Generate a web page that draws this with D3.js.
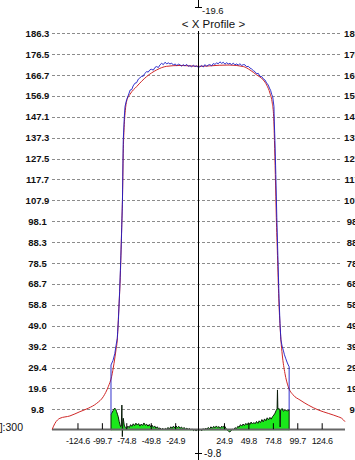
<!DOCTYPE html>
<html><head><meta charset="utf-8">
<script src="https://cdn.jsdelivr.net/npm/d3@7"></script>
<style>
html,body{margin:0;padding:0;background:#fff;overflow:hidden}
svg{display:block;font-family:"Liberation Sans",Arial,sans-serif}
</style></head>
<body>
<svg id="c" width="355" height="460"></svg>
<script>
// ---- data ----
const title = "< X Profile >";
const sideLabel = "[n]:300";
const xTickValues = [-124.6,-99.7,-74.8,-49.8,-24.9,24.9,49.8,74.8,99.7,124.6];
const xTickLabels = ["-124.6","-99.7","-74.8","-49.8","-24.9","24.9","49.8","74.8","99.7","124.6"];
const yTickValues = [9.8,19.6,29.4,39.2,49.0,58.8,68.7,78.5,88.3,98.1,107.9,117.7,127.5,137.3,147.1,156.9,166.7,176.5,186.3];
const yTickLabels = ["9.8","19.6","29.4","39.2","49.0","58.8","68.7","78.5","88.3","98.1","107.9","117.7","127.5","137.3","147.1","156.9","166.7","176.5","186.3"];
const centerTopLabel = "-19.6";
const centerBottomLabel = "-9.8";

// fitted profile (red)
const fitX = [-150.4,-147.6,-142.5,-132.3,-122.1,-113.6,-105,-98.3,-93.2,-89.8,-87.3,-85.3,-84,-82.6,-80.7,-79.5,-78.7,-77.9,-77,-75.8,-74.4,-70.8,-64.2,-54,-43.8,-33.6,-20,-10,0,10,20,30,44.6,51.4,58.2,65,68.5,71.8,74.2,75.6,76.4,77.3,78.3,79.5,80.8,82,83,84.4,87.1,90.5,95.6,102.4,110.9,121.1,131.3,141.5,145,148.4];
const fitY = [0.4,3.2,5.6,6.7,8.7,10.3,12.6,15.7,20.4,25.1,31.4,37.7,42.3,55,75,95,108,130,142,150,154.5,157.8,161.3,166,169.1,170.8,171.2,171,170.8,171,171.3,171.4,170.7,169.1,166.8,164.4,162,158.2,153.5,147.2,136,120,100,82,62,50,42.4,35.3,26.7,20.4,16.5,14.2,11.8,9.5,7.9,6.3,5.6,4.0];

// measured profile (blue)
const measX = [-90.4,-90.4,-88.3,-86.5,-85.3,-84,-82.8,-81.6,-80.6,-79.6,-78.7,-77.9,-76.8,-76.1,-74.4,-73,-70.8,-69.2,-67.8,-65.9,-64.3,-62.5,-61,-59.1,-57.6,-56,-54,-52.4,-50.6,-48.9,-47.2,-45.5,-43.8,-42.1,-40.4,-38.7,-37,-35.3,-33.5,-31.8,-30.2,-28.5,-26.7,-25,-23.2,-21.6,-20,-18.3,-16.6,-14.9,-13.2,-11.5,-9.8,-8.1,-6.4,-4.7,-3,-1.3,0.4,2.1,3.8,5.5,7.2,8.9,10.6,12.3,14,15.7,17.4,19.1,20.8,22.5,24.2,25.9,27.6,29.3,31,32.7,34.4,36.1,37.8,39.5,41.2,43,44.6,46.3,48,49.7,51.4,53,54.8,56.5,58.2,59.9,61.6,63.4,65,66.7,68.4,70.1,71.3,72.5,73.6,74.6,75.9,76.2,76.9,77.8,78.8,80,81.1,82.1,83,84.2,85.4,86.6,87.8,89.2,90.5,91.4,91.4];
const measY = [7.3,30.6,32.8,36,39.7,43,52,65,78,92,108,136,147,151.9,155.2,156.8,159.7,159.9,161.6,162.9,163.1,164.8,165.3,166.2,166.1,167.4,168.3,168.1,169.2,169.4,169.0,170.3,170.7,170.2,171.5,172.2,171.6,172.7,172.0,172.4,171.9,172.3,171.4,171.9,171.2,171.8,171.5,170.9,171.6,171.0,171.7,170.8,171.1,170.6,171.3,170.7,171.0,170.3,170.6,171.2,170.5,171.6,170.8,171.4,171.6,171.0,172.1,171.7,172.4,172.0,172.9,172.2,172.7,171.8,172.5,171.9,172.2,171.6,172.3,171.5,171.9,171.4,172.0,171.2,171.6,171.5,170.6,170.8,170.0,169.6,168.8,168.3,167.3,167.5,166.1,166.0,164.9,164.4,163.0,162.0,160.6,159.5,157.6,156.6,151.9,145.6,136,120,100,80,62,50,42.4,39.5,37.6,35.4,33.8,32,30.6,29.8,9.5];

// difference (green)
const diffX = [-90.4,-90.4,-89.8,-88.2,-87.3,-86.4,-85.5,-84.7,-83.8,-83,-82,-81.2,-80.6,-79.9,-79.3,-78.8,-78.3,-77.9,-76.9,-75.8,-74.5,-73.1,-71.8,-70.4,-69.1,-67.7,-66.3,-65,-63.6,-62.2,-60.9,-59.5,-58.1,-56.8,-55.4,-54,-52.7,-51.3,-49.9,-48.6,-47.2,-45.8,-44.5,-43.1,-41.7,-40.4,-39,-37.6,-36.3,-34.9,-33.5,-32.2,-30.8,-29.4,-28.1,-26.7,-25.3,-24,-22.6,-21.2,-19.9,-18.5,-17.1,-15.8,-14.4,-13,-11.7,-10.3,-8.9,-7.6,-6.2,-4.8,-3.5,-2.1,-0.7,0.7,2.1,3.4,4.8,6.2,7.5,8.9,10.3,11.6,13,14.4,15.7,17.1,18.5,19.8,21.2,22.6,23.9,25.3,26.7,28,29.4,30.8,32.1,33.5,34.9,36.2,37.6,39,40.3,41.7,43.1,44.4,45.8,47.2,48.5,49.9,51.3,52.6,54,55.4,56.7,58.1,59.5,60.8,62.2,63.6,64.9,66.3,67.7,69,70.4,71.8,73.1,74.5,75.8,77,78.3,79.1,79.5,79.9,81.1,81.8,82.2,82.7,84.2,85.5,87.2,88.4,89.6,91.4,91.4];
const diffY = [0,7.3,7.9,9.2,10.0,10.3,9.8,8.7,7.5,6.3,4.0,2.6,1.6,1.9,11.8,-3.0,4.2,5.6,2.4,1.2,0.9,1.9,1.2,2.6,1.8,3.0,2.1,3.3,2.4,3.1,1.9,2.9,2.2,3.4,2.3,2.8,1.9,2.7,1.6,2.4,1.3,2.0,0.9,1.6,0.6,1.1,0.3,0.9,0.2,0.8,0.4,1.3,0.5,1.6,0.8,1.9,1.1,2.0,1.2,1.8,0.9,1.5,0.7,1.3,0.4,1.0,0.3,0.8,0.1,0.6,-0.2,0.4,-0.4,0.3,-0.2,0.5,-0.3,0.7,0.2,1.0,0.4,1.3,0.6,1.6,0.9,1.8,1.1,2.0,1.2,1.7,0.9,1.9,1.3,2.1,1.0,0.2,-0.4,-0.8,-0.3,0.5,0.2,1.2,0.7,1.8,1.4,2.6,1.9,2.9,2.2,3.2,2.5,3.5,2.7,3.8,2.9,3.6,3.0,4.1,3.2,4.4,3.6,5.0,3.9,5.3,4.4,5.8,4.9,6.0,5.2,6.4,7.1,8.0,9.4,10.0,18.9,9.8,10.2,9.6,1.5,9.5,10.2,8.9,9.6,9.2,9.1,9.5,0];

// ---- drawing ----
const svg = d3.select("#c");
svg.append("rect").attr("width",355).attr("height",460).attr("fill","#fff");

const x = d3.scaleLinear().domain([-150.6,148.4]).range([52,345]);
const y = d3.scaleLinear().domain([0,186.3]).range([430.2,33.3]);

// gridlines + left labels
const gLeft = svg.append("g").attr("transform","translate(52,0)")
  .call(d3.axisLeft(y).tickValues(yTickValues).tickFormat((d,i)=>yTickLabels[i]).tickSize(-290).tickPadding(0));
gLeft.select(".domain").remove();
gLeft.selectAll(".tick line").attr("stroke","#8c8c8c").attr("stroke-dasharray","3,2").attr("shape-rendering","crispEdges");
gLeft.selectAll(".tick text").attr("x",-14.5).attr("text-anchor","middle")
  .attr("font-size","9.5px").attr("font-weight","bold").attr("fill","#111")
  .attr("font-family","'Liberation Sans',Arial,sans-serif");

// right labels (cut off)
const gRight = svg.append("g").attr("transform","translate(342,0)")
  .call(d3.axisRight(y).tickValues(yTickValues).tickFormat((d,i)=>yTickLabels[i]).tickSize(0).tickPadding(0));
gRight.select(".domain").remove();
gRight.selectAll(".tick text").attr("x",14).attr("text-anchor","middle")
  .attr("font-size","9.5px").attr("font-weight","bold").attr("fill","#111")
  .attr("font-family","'Liberation Sans',Arial,sans-serif");

// green difference area
const pts = (xs,ys)=>xs.map((v,i)=>[v,ys[i]]);
const diffPts = pts(diffX,diffY);
svg.append("path").datum(diffPts)
  .attr("d", d3.area().x(d=>x(d[0])).y0(y(0)).y1(d=>y(d[1])))
  .attr("fill","#1be81b");
svg.append("path").datum(diffPts)
  .attr("d", d3.line().x(d=>x(d[0])).y(d=>y(d[1])))
  .attr("fill","none").attr("stroke","#0a1a0a").attr("stroke-width",1);

// baseline + ticks
svg.append("line").attr("x1",52).attr("x2",345).attr("y1",y(0)-0.7).attr("y2",y(0)-0.7)
  .attr("stroke","#666").attr("stroke-width",2);
const gx = svg.append("g").attr("transform",`translate(0,${y(0)-1})`)
  .call(d3.axisBottom(x).tickValues(xTickValues).tickFormat((d,i)=>xTickLabels[i]).tickSizeInner(-6).tickSizeOuter(0).tickPadding(8));
gx.select(".domain").remove();
gx.selectAll(".tick line").attr("stroke","#000");
gx.selectAll(".tick text").attr("font-size","9px").attr("letter-spacing","-0.3px").attr("fill","#111")
  .attr("font-family","'Liberation Sans',Arial,sans-serif");

// fit (red) and measured (blue)
svg.append("path").datum(pts(fitX,fitY))
  .attr("d", d3.line().x(d=>x(d[0])).y(d=>y(d[1])).curve(d3.curveMonotoneX))
  .attr("fill","none").attr("stroke","#d02828").attr("stroke-width",1);
svg.append("path").datum(pts(measX,measY))
  .attr("d", d3.line().x(d=>x(d[0])).y(d=>y(d[1])))
  .attr("fill","none").attr("stroke","#1c1cc8").attr("stroke-width",1).attr("opacity",0.9);

// center vertical axis
const cx = 198.5;
svg.append("line").attr("x1",cx).attr("x2",cx).attr("y1",0).attr("y2",7).attr("stroke","#000");
svg.append("line").attr("x1",195).attr("x2",202).attr("y1",7.5).attr("y2",7.5).attr("stroke","#000");
svg.append("line").attr("x1",cx).attr("x2",cx).attr("y1",31).attr("y2",460).attr("stroke","#000");
svg.append("line").attr("x1",195).attr("x2",202).attr("y1",453.5).attr("y2",453.5).attr("stroke","#000");
svg.append("text").attr("x",202).attr("y",13.5).attr("font-size","9.5px").attr("fill","#111").text(centerTopLabel);
svg.append("text").attr("x",204).attr("y",457).attr("font-size","10px").attr("fill","#111").text(centerBottomLabel);

// title
svg.append("text").attr("x",213.5).attr("y",28).attr("text-anchor","middle")
  .attr("font-size","11.5px").attr("fill","#111").text(title);

// cut-off side label
svg.append("text").attr("x",23).attr("y",430.5).attr("text-anchor","end")
  .attr("font-size","10.5px").attr("fill","#111").text(sideLabel);
</script>
</body></html>
